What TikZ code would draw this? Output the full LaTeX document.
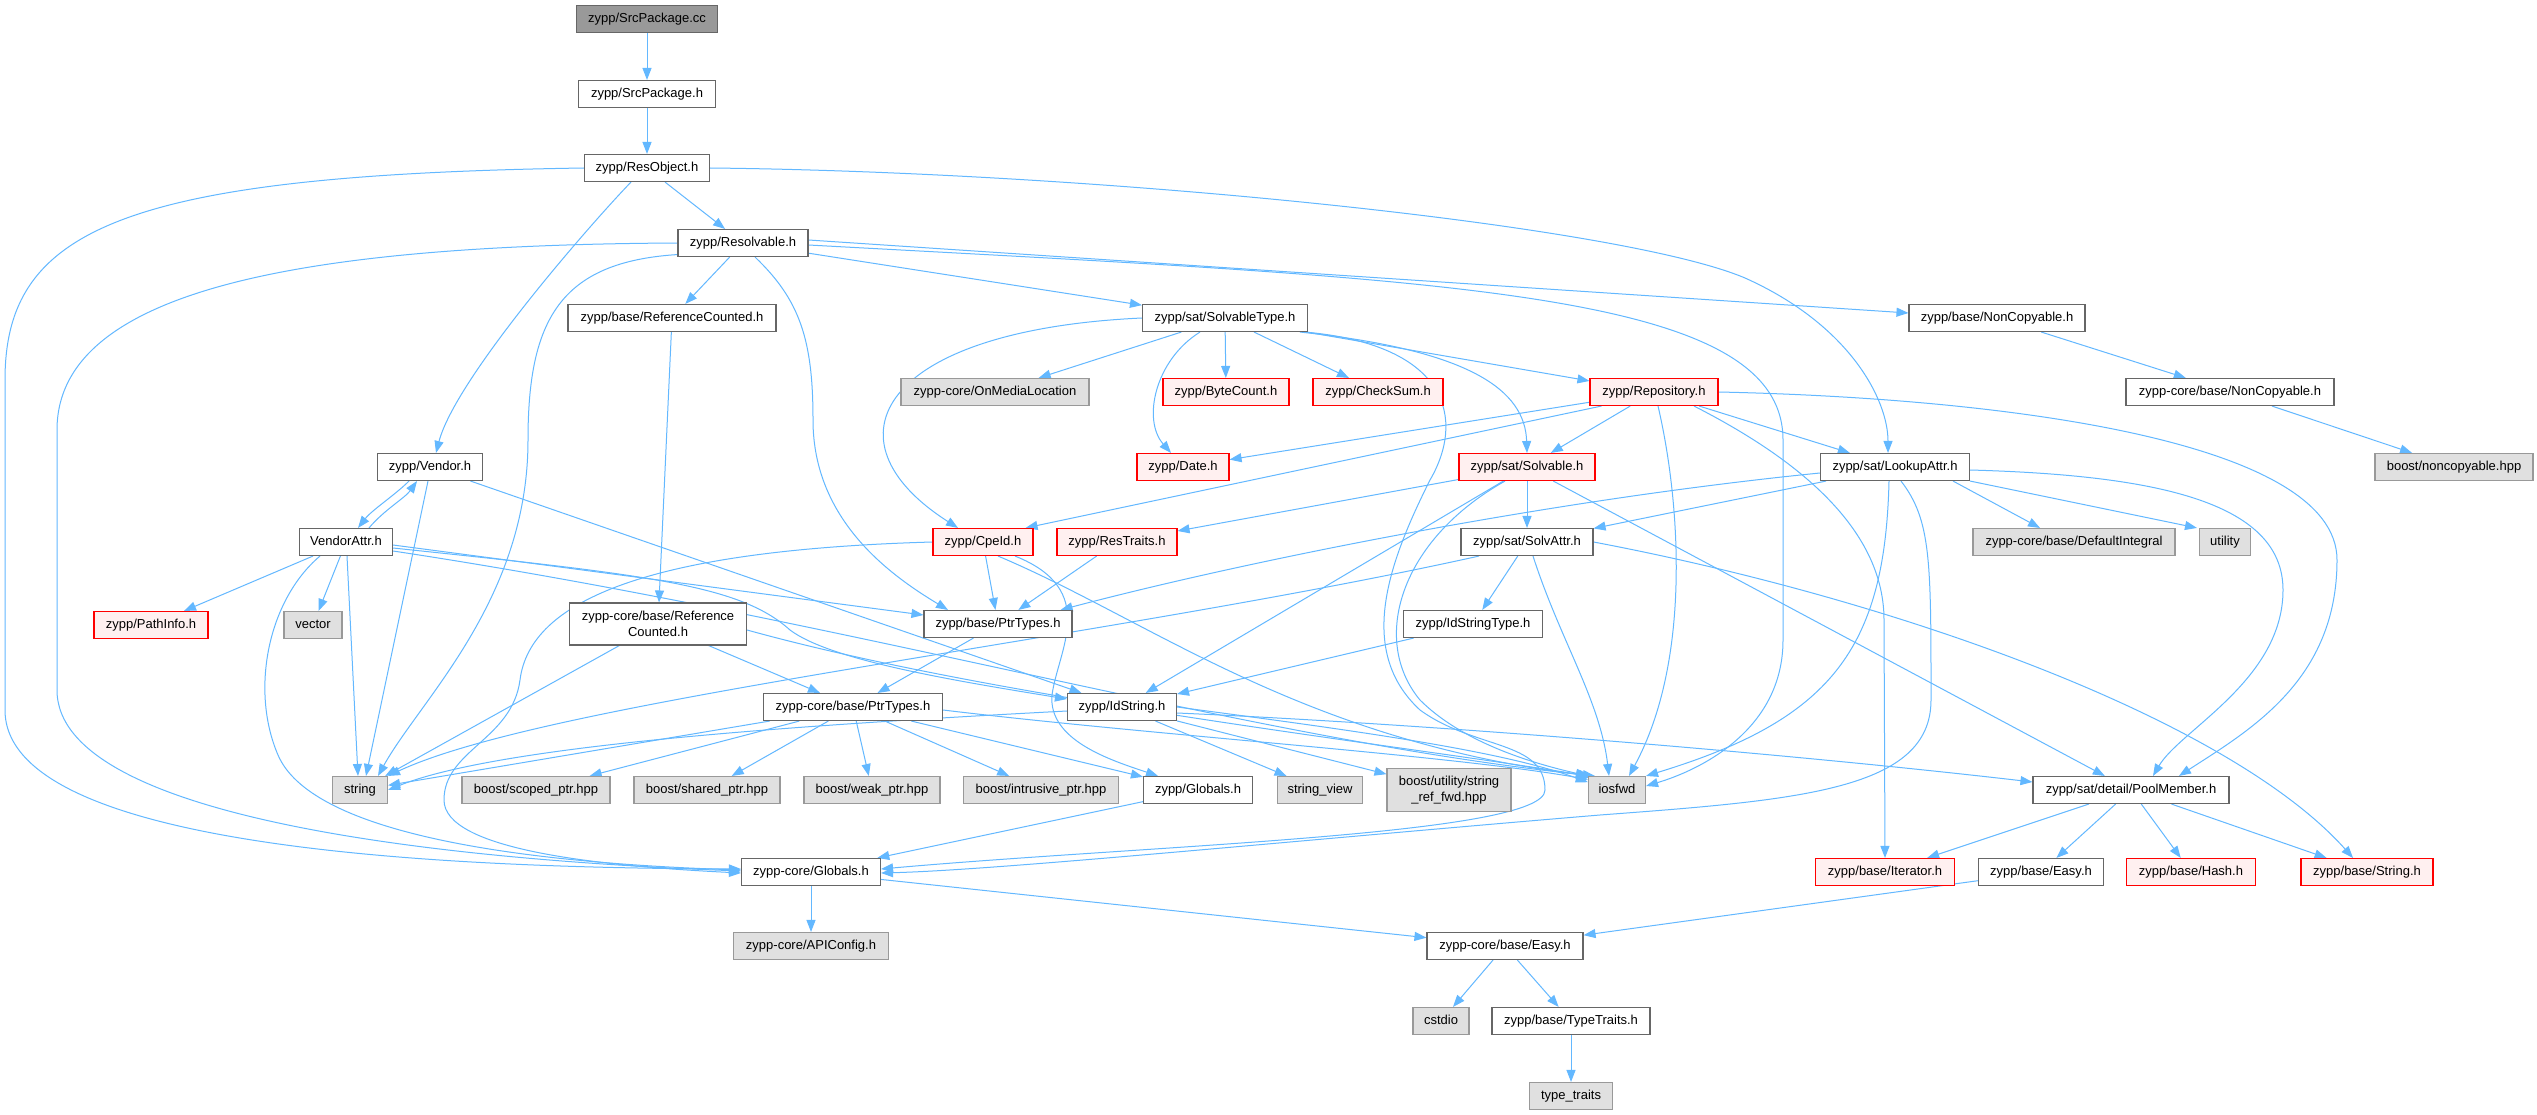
\documentclass[tikz,border=0pt]{standalone}
\usepackage{fontspec}
\setmainfont{Liberation Sans}
\usetikzlibrary{arrows.meta}
\definecolor{edgec}{HTML}{63B8FF}
\definecolor{bordc}{HTML}{666666}
\definecolor{grayb}{HTML}{999999}
\definecolor{grayf}{HTML}{E0E0E0}
\definecolor{redf}{HTML}{FFF0F0}
\definecolor{redb}{HTML}{FF0000}
\definecolor{rootf}{HTML}{999999}
\pgfdeclarelayer{back}
\pgfdeclarelayer{bg}
\pgfsetlayers{back,bg,main}
\begin{document}
\begin{tikzpicture}[x=1pt,y=-1pt,
  nd/.style={draw=bordc, fill=white, line width=1.1pt, minimum height=27pt, inner sep=0pt,
    text height=9.4pt, text depth=2.8pt, font=\fontsize{13}{16}\selectfont, text=black},
  nd2/.style={nd, align=center, text height={}, text depth={}},
  gr/.style={nd, draw=grayb, fill=grayf},
  rd/.style={nd, draw=redb, fill=redf},
  rt/.style={nd, fill=rootf},
  wd/.style={minimum width=#1pt},
  edg/.style={draw=edgec, line width=1pt, -{Triangle[length=12pt,width=9pt]}}
]
\begin{pgfonlayer}{back}
\fill[white] (0,0) rectangle (2537,1115);
\end{pgfonlayer}
\useasboundingbox (0,0) rectangle (2537,1115);

% ---------- nodes ----------
\node[rt,wd=141] (root) at (647,19) {zypp/SrcPackage.cc};
\node[nd,wd=137] (sph) at (647,94) {zypp/SrcPackage.h};
\node[nd,wd=125] (resobj) at (647,168) {zypp/ResObject.h};
\node[nd,wd=130] (resolv) at (743,243) {zypp/Resolvable.h};
\node[nd,wd=208] (bref) at (672,318) {zypp/base/ReferenceCounted.h};
\node[nd,wd=165] (stype) at (1225,318) {zypp/sat/SolvableType.h};
\node[nd,wd=176] (ncopy) at (1997,318) {zypp/base/NonCopyable.h};
\node[gr,wd=188] (media) at (995,392) {zypp-core/OnMediaLocation};
\node[rd,wd=126] (bytec) at (1226,392) {zypp/ByteCount.h};
\node[rd,wd=130] (cks) at (1378,392) {zypp/CheckSum.h};
\node[rd,wd=128] (repo) at (1654,392) {zypp/Repository.h};
\node[nd,wd=208] (cncopy) at (2230,392) {zypp-core/base/NonCopyable.h};
\node[nd,wd=105] (vendor) at (430,467) {zypp/Vendor.h};
\node[rd,wd=92] (date) at (1183,467) {zypp/Date.h};
\node[rd,wd=136] (solv) at (1527,467) {zypp/sat/Solvable.h};
\node[nd,wd=149] (lookup) at (1895,467) {zypp/sat/LookupAttr.h};
\node[gr,wd=158] (bnc) at (2454,467) {boost/noncopyable.hpp};
\node[nd,wd=93] (vattr) at (346,542) {VendorAttr.h};
\node[rd,wd=100] (cpeid) at (983,542) {zypp/CpeId.h};
\node[rd,wd=120] (restr) at (1117,542) {zypp/ResTraits.h};
\node[nd,wd=132] (solvattr) at (1527,542) {zypp/sat/SolvAttr.h};
\node[gr,wd=202] (defint) at (2074,542) {zypp-core/base/DefaultIntegral};
\node[gr,wd=51] (util) at (2225,542) {utility};
\node[rd,wd=114] (pinfo) at (151,625) {zypp/PathInfo.h};
\node[gr,wd=58] (vec) at (313,625) {vector};
\node[nd2,wd=177,minimum height=42pt] (cref) at (658,624) {zypp-core/base/Reference\\Counted.h};
\node[nd,wd=148] (bptr) at (998,624) {zypp/base/PtrTypes.h};
\node[nd,wd=139] (idst) at (1473,624) {zypp/IdStringType.h};
\node[nd,wd=179] (cptr) at (853,707) {zypp-core/base/PtrTypes.h};
\node[nd,wd=109] (idstr) at (1122,707) {zypp/IdString.h};
\node[gr,wd=55] (string) at (360,790) {string};
\node[gr,wd=148] (scoped) at (536,790) {boost/scoped\_ptr.hpp};
\node[gr,wd=146] (shared) at (707,790) {boost/shared\_ptr.hpp};
\node[gr,wd=136] (weak) at (872,790) {boost/weak\_ptr.hpp};
\node[gr,wd=155] (intr) at (1041,790) {boost/intrusive\_ptr.hpp};
\node[nd,wd=109] (zglob) at (1198,790) {zypp/Globals.h};
\node[gr,wd=85] (sview) at (1320,790) {string\_view};
\node[gr,nd2,draw=grayb,fill=grayf,wd=124,minimum height=43pt] (sref) at (1449,790) {boost/utility/string\\\_ref\_fwd.hpp};
\node[gr,wd=57] (iosfwd) at (1617,790) {iosfwd};
\node[nd,wd=196] (pool) at (2131,790) {zypp/sat/detail/PoolMember.h};
\node[nd,wd=139] (cglob) at (811,872) {zypp-core/Globals.h};
\node[rd,wd=139] (iter) at (1885,872) {zypp/base/Iterator.h};
\node[nd,wd=125] (beasy) at (2041,872) {zypp/base/Easy.h};
\node[rd,wd=129] (hash) at (2191,872) {zypp/base/Hash.h};
\node[rd,wd=132] (bstr) at (2367,872) {zypp/base/String.h};
\node[gr,wd=155] (apic) at (811,946) {zypp-core/APIConfig.h};
\node[nd,wd=156] (ceasy) at (1505,946) {zypp-core/base/Easy.h};
\node[gr,wd=56] (cstdio) at (1441,1021) {cstdio};
\node[nd,wd=158] (ttraits) at (1571,1021) {zypp/base/TypeTraits.h};
\node[gr,wd=83] (tt) at (1571,1096) {type\_traits};

% ---------- edges ----------
\begin{pgfonlayer}{bg}
\draw[edg] (root) -- (sph);
\draw[edg] (sph) -- (resobj);
% ResObject
\draw[edg] (resobj) -- (resolv);
\draw[edg] ([xshift=-16]resobj.south) .. controls (585,230) and (455,380) .. ([xshift=6]vendor.north);
\draw[edg] (resobj.west) .. controls (120,175) and (5,230) .. (5,380) -- (5,710) .. controls (5,850) and (450,868) .. ([yshift=3]cglob.west);
\draw[edg] (resobj.east) .. controls (1100,172) and (1620,225) .. (1745,278) .. controls (1850,325) and (1888,400) .. ([xshift=-7]lookup.north);
% Resolvable
\draw[edg] (resolv.west) .. controls (300,245) and (57,290) .. (57,430) -- (57,690) .. controls (57,820) and (450,860) .. ([yshift=1]cglob.west);
\draw[edg] (resolv.190) .. controls (560,262) and (528,320) .. (528,440) .. controls (528,600) and (420,700) .. ([xshift=18]string.north);
\draw[edg] (resolv) -- (bref);
\draw[edg] ([xshift=12]resolv.south) .. controls (800,300) and (813,340) .. (813,420) .. controls (813,520) and (890,575) .. ([xshift=-50]bptr.north);
\draw[edg] (resolv) -- (stype);
\draw[edg] ([yshift=3]resolv.east) -- ([yshift=5]ncopy.west);
\draw[edg] ([yshift=-2]resolv.east) .. controls (1450,280) and (1783,290) .. (1783,440) -- (1783,640) .. controls (1783,730) and (1700,770) .. ([yshift=4]iosfwd.east);
\draw[edg] (bref) -- (cref);
% SolvableType
\draw[edg] (stype) -- (media);
\draw[edg] (stype) -- (bytec);
\draw[edg] (stype) -- (cks);
\draw[edg] ([xshift=-25]stype.south) .. controls (1155,360) and (1142,420) .. ([xshift=-12]date.north);
\draw[edg] (stype.west) .. controls (880,330) and (820,440) .. ([xshift=-25]cpeid.north);
\draw[edg] (stype) -- (repo);
\draw[edg] ([xshift=75]stype.south) .. controls (1470,350) and (1525,390) .. (solv.north);
\draw[edg] ([xshift=80]stype.south) .. controls (1450,345) and (1465,420) .. (1430,480) .. controls (1390,560) and (1355,650) .. (1420,710) .. controls (1475,750) and (1545,740) .. (1545,790) .. controls (1545,835) and (1150,845) .. ([yshift=3]cglob.east);
% NonCopyable
\draw[edg] (ncopy) -- (cncopy);
\draw[edg] (cncopy) -- (bnc);
% Repository
\draw[edg] (repo) -- (date);
\draw[edg] ([xshift=12]repo.south west) -- ([xshift=-8]cpeid.north east);
\draw[edg] (repo) -- (solv);
\draw[edg] (repo) -- (lookup);
\draw[edg] (repo.east) .. controls (2000,398) and (2337,440) .. (2337,560) .. controls (2337,680) and (2250,730) .. ([xshift=48]pool.north);
\draw[edg] ([xshift=40]repo.south) .. controls (1780,450) and (1884,520) .. (1884,620) -- (iter.north);
\draw[edg] ([xshift=4]repo.south) .. controls (1680,500) and (1692,660) .. ([xshift=12]iosfwd.north);
% Vendor
\draw[edg] ([xshift=-21]vendor.south) .. controls (395,495) and (372,510) .. ([xshift=12]vattr.north);
\draw[edg] ([xshift=23]vattr.north) .. controls (384,510) and (405,498) .. ([xshift=-13]vendor.south);
\draw[edg] ([xshift=-2]vendor.south) -- ([xshift=6]string.north);
\draw[edg] (vendor) -- (idstr);
% VendorAttr
\draw[edg] (vattr) -- (pinfo);
\draw[edg] (vattr) -- (vec);
\draw[edg] ([xshift=1]vattr.south) -- ([xshift=-2]string.north);
\draw[edg] ([xshift=-26]vattr.south) .. controls (268,600) and (250,690) .. (278,755) .. controls (310,830) and (500,862) .. ([yshift=2]cglob.west);
\draw[edg] ([yshift=-3]vattr.east) -- ([yshift=9]bptr.west);
\draw[edg] ([yshift=-6]vattr.east) .. controls (650,575) and (740,585) .. (790,630) .. controls (830,660) and (950,680) .. ([yshift=8]idstr.west);
\draw[edg] ([yshift=-9]vattr.east) .. controls (850,620) and (1250,740) .. ([xshift=-22]iosfwd.north);
% CpeId
\draw[edg] (cpeid.west) .. controls (650,550) and (530,600) .. (520,680) .. controls (512,740) and (444,750) .. (444,800) .. controls (444,850) and (600,866) .. ([yshift=-1]cglob.west);
\draw[edg] (cpeid) -- (bptr);
\draw[edg] ([xshift=15]cpeid.south) .. controls (1150,620) and (1300,740) .. ([xshift=-26]iosfwd.north);
\draw[edg] ([xshift=32]cpeid.south) .. controls (1100,590) and (1058,650) .. (1052,695) .. controls (1048,740) and (1110,760) .. ([xshift=-40]zglob.north);
\draw[edg] (restr) -- (bptr);
% Solvable
\draw[edg] (solv) -- (restr);
\draw[edg] (solv) -- (idstr);
\draw[edg] (solv) -- (solvattr);
\draw[edg] (solv) -- (pool);
\draw[edg] ([xshift=-22]solv.south) .. controls (1400,540) and (1370,640) .. (1420,700) .. controls (1465,745) and (1540,765) .. (iosfwd.north west);
% LookupAttr
\draw[edg] (lookup) -- (solvattr);
\draw[edg] ([yshift=-6]lookup.west) .. controls (1550,500) and (1250,560) .. ([xshift=-12]bptr.north east);
\draw[edg] ([xshift=58]lookup.south) -- ([xshift=-34]defint.north);
\draw[edg] (lookup.south east) -- ([xshift=-2]util.north west);
\draw[edg] ([yshift=-3]lookup.east) .. controls (2150,475) and (2283,500) .. (2283,590) .. controls (2283,680) and (2180,730) .. ([xshift=22]pool.north);
\draw[edg] ([xshift=-6]lookup.south) .. controls (1885,650) and (1830,720) .. (iosfwd.north east);
\draw[edg] ([xshift=6]lookup.south) .. controls (1931,520) and (1931,560) .. (1931,700) .. controls (1931,790) and (1800,800) .. (1600,815) .. controls (1300,840) and (1000,870) .. ([yshift=-1]cglob.east);
% SolvAttr
\draw[edg] (solvattr) -- (idst);
\draw[edg] ([xshift=6]solvattr.south) .. controls (1560,640) and (1600,700) .. ([xshift=-8]iosfwd.north);
\draw[edg] ([xshift=-48]solvattr.south) .. controls (1100,640) and (550,700) .. (string.north east);
\draw[edg] (solvattr.east) .. controls (1900,600) and (2230,720) .. ([xshift=-14]bstr.north);
\draw[edg] (idst) -- (idstr);
% core ReferenceCounted
\draw[edg] (cref) -- (cptr);
\draw[edg] (cref) -- (string);
\draw[edg] ([yshift=-6]cref.east) .. controls (1000,700) and (1400,745) .. (iosfwd.north west);
% PtrTypes
\draw[edg] (bptr) -- (cptr);
\draw[edg] (cptr) -- (string);
\draw[edg] (cptr) -- (scoped);
\draw[edg] (cptr) -- (shared);
\draw[edg] (cptr) -- (weak);
\draw[edg] (cptr) -- (intr);
\draw[edg] (cptr) -- (zglob);
\draw[edg] ([yshift=-3]cptr.east) .. controls (1150,735) and (1450,755) .. (iosfwd.160);
% IdString
\draw[edg] ([yshift=-4]idstr.west) .. controls (800,725) and (500,745) .. (string.east);
\draw[edg] (idstr) -- (sview);
\draw[edg] (idstr) -- (sref);
\draw[edg] (idstr.east) .. controls (1350,730) and (1500,750) .. (iosfwd.165);
\draw[edg] ([yshift=-6]idstr.east) .. controls (1450,725) and (1800,755) .. ([yshift=8]pool.west);
% Globals and the rest
\draw[edg] (zglob) -- (cglob);
\draw[edg] (cglob) -- (apic);
\draw[edg] (cglob) -- (ceasy);
\draw[edg] (beasy) -- (ceasy);
\draw[edg] (pool) -- (iter);
\draw[edg] (pool) -- (beasy);
\draw[edg] (pool) -- (hash);
\draw[edg] (pool) -- (bstr);
\draw[edg] (ceasy) -- (cstdio);
\draw[edg] (ceasy) -- (ttraits);
\draw[edg] (ttraits) -- (tt);
\end{pgfonlayer}
\end{tikzpicture}
\end{document}
